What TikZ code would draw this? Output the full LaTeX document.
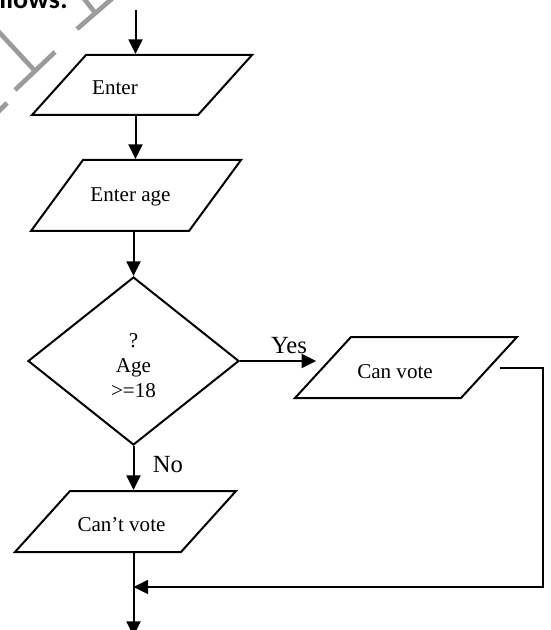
\documentclass[tikz,border=0pt]{standalone}
\usepackage{fontspec}
\setmainfont{Liberation Serif}
\newfontfamily\headfont{Carlito}
\usetikzlibrary{arrows.meta}
\usetikzlibrary{shapes.geometric}

\begin{document}
\begin{tikzpicture}[x=0.75pt,y=0.75pt,yscale=-1,xscale=1,
  io/.style={trapezium, draw, line width=1.5pt},
  decide/.style={diamond, draw, line width=1.5pt, inner sep=0pt},
  txt/.style={inner sep=0.75pt, font=\fontsize{15.8}{18.75}\selectfont},
  lbl/.style={inner sep=0.75pt, font=\fontsize{18.5}{22}\selectfont},
  arr/.style={line width=1.5pt, -{Triangle[length=11pt,width=10.5pt]}},
  wm/.style={draw={rgb, 255:red, 155; green, 155; blue, 155 }, line width=3.5pt}]
\useasboundingbox (0,0) rectangle (550,630);

%Watermark strokes
\draw [wm] (-2,31) -- (35,71) ;
\draw [wm] (15,90) -- (55,52) ;
\draw [wm] (77,29) -- (114,-3) ;
\draw [wm] (82,-4) -- (96,14) ;
\draw [wm] (-3,113) -- (7,103) ;

% Text Node
\draw (68,8.5) node [anchor=base east, inner sep=0pt, font=\headfont\bfseries\fontsize{21}{24}\selectfont] (head) {follows:};

%Shape: Parallelogram
\node [io, trapezium left angle=48.01, trapezium right angle=131.99, inner xsep=42pt, inner ysep=22.5pt] (enter) at (142,85) {};
%Shape: Parallelogram
\node [io, trapezium left angle=53.78, trapezium right angle=126.22, inner xsep=39.75pt, inner ysep=26.625pt] (age) at (136,195.5) {};
%Shape: Diamond
\node [decide, minimum width=158.25pt, minimum height=126pt] (dec) at (133.5,361) {};
%Shape: Parallelogram
\node [io, trapezium left angle=47.45, trapezium right angle=132.55, inner xsep=41.25pt, inner ysep=22.875pt] (canv) at (406,367.5) {};
%Shape: Parallelogram
\node [io, trapezium left angle=47.96, trapezium right angle=132.04, inner xsep=41.625pt, inner ysep=22.875pt] (cant) at (125.5,521.5) {};

\coordinate (start) at (135.5,10);
\coordinate (turn) at (543,587);
\coordinate (end) at (133.5,636);

%Straight Lines
\draw [arr] (start) -- (start |- enter.north) ;
\draw [arr] (start |- enter.south) -- (start |- age.north) ;
\draw [arr] (age.south -| dec.north) -- (dec.north) ;
\draw [arr, shorten >=4pt] (dec.east) -- (dec.east -| canv.west) ;
\draw [arr] (dec.south) -- (dec.south |- cant.north) ;
\draw [arr] (dec.south |- cant.south) -- (end) ;
\draw [arr, shorten <=7.5pt] (canv.east) -| (turn) -- (turn -| end) ;

% Text Node
\draw (115,95) node [txt, anchor=base] (tenter) {Enter};
% Text Node
\draw (130.5,201.5) node [txt, anchor=base] (tage) {Enter age};
% Text Node
\draw (133.5,366) node [txt, align=center] (tdec) {?\\Age\\>=18};
% Text Node
\draw (395,378) node [txt, anchor=base] (tcanv) {Can vote};
% Text Node
\draw (121.5,531) node [txt, anchor=base] (tcant) {Can’t vote};
% Text Node
\draw (289,353) node [lbl, anchor=base] (yes) {Yes};
% Text Node
\draw (168,472) node [lbl, anchor=base] (no) {No};

\end{tikzpicture}
\end{document}
